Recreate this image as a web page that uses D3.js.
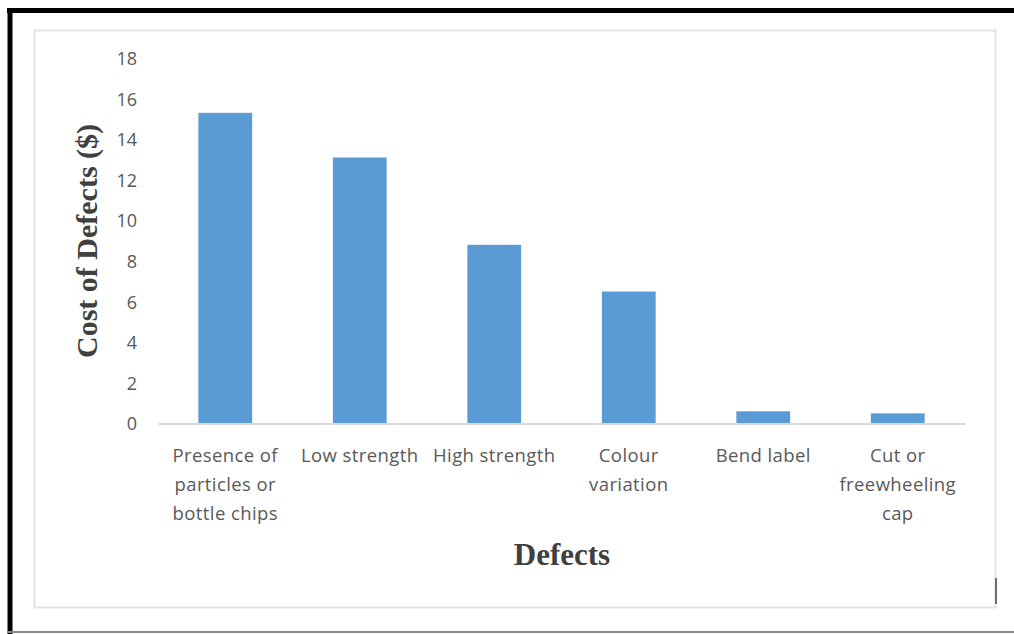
<!DOCTYPE html>
<html><head><meta charset="utf-8">
<script src="https://cdn.jsdelivr.net/npm/d3@7"></script>
<style>body{margin:0;background:#fff}svg{display:block}</style>
</head><body>
<script>
const categories = [["Presence of","particles or","bottle chips"],["Low strength"],["High strength"],["Colour","variation"],["Bend label"],["Cut or","freewheeling","cap"]];
const values = [15.3, 13.1, 8.8, 6.5, 0.6, 0.5];
const yTicks = [0,2,4,6,8,10,12,14,16,18];
const yTitle = "Cost of Defects ($)";
const xTitle = "Defects";

const W = 1014, H = 634;
const svg = d3.select("body").append("svg").attr("width", W).attr("height", H);

// outer frame
svg.append("line").attr("x1",7).attr("x2",W).attr("y1",10.5).attr("y2",10.5).attr("stroke","#000").attr("stroke-width",5);
svg.append("line").attr("x1",10).attr("x2",10).attr("y1",8).attr("y2",H).attr("stroke","#000").attr("stroke-width",5);
svg.append("line").attr("x1",8).attr("x2",W).attr("y1",632).attr("y2",632).attr("stroke","#888").attr("stroke-width",2);
// chart area box
svg.append("rect").attr("x",34.5).attr("y",30.5).attr("width",961).attr("height",577).attr("fill","#fff").attr("stroke","#e3e3e3").attr("stroke-width",2);
svg.append("line").attr("x1",996).attr("x2",996).attr("y1",578).attr("y2",604).attr("stroke","#444").attr("stroke-width",1.5);

const x = d3.scaleBand().domain(d3.range(categories.length)).range([158, 965]).paddingInner(0.6).paddingOuter(0.3);
const y = d3.scaleLinear().domain([0, 18]).range([423.5, 58]);

const sans = "'Open Sans', Lato, sans-serif";
const serif = "'Liberation Serif', 'DejaVu Serif', serif";

// y axis labels
const yAxis = d3.axisLeft(y).tickValues(yTicks).tickSize(0).tickPadding(0);
const gy = svg.append("g").attr("transform","translate(137,0)").call(yAxis);
gy.select(".domain").remove();
gy.selectAll("text").attr("fill","#595959").style("font-family",sans).style("font-size","18px").attr("dy","0.36em");

// bars
svg.selectAll("rect.bar").data(values).enter().append("rect").attr("class","bar")
  .attr("x",(d,i)=>x(i)).attr("width",x.bandwidth())
  .attr("y",d=>y(d)).attr("height",d=>y(0)-y(d))
  .attr("fill","#5B9BD5");

// baseline
const xAxis = d3.axisBottom(x).tickSize(0).tickFormat("");
const gx = svg.append("g").attr("transform",`translate(0,${y(0)})`).call(xAxis);
gx.select(".domain").attr("stroke","#d9d9d9").attr("stroke-width",2);

// category labels
const lab = svg.append("g");
categories.forEach((lines,i)=>{
  const cx = x(i)+x.bandwidth()/2;
  const t = lab.append("text").attr("x", cx).attr("y", 462)
    .attr("text-anchor","middle").attr("fill","#595959")
    .style("font-family",sans).style("font-size","18.5px").style("letter-spacing","0.4px");
  lines.forEach((l,j)=>t.append("tspan").attr("x", cx).attr("dy", j===0?0:29).text(l));
});

// axis titles
svg.append("text").attr("transform","translate(97,241) rotate(-90)").attr("text-anchor","middle")
  .attr("fill","#404040").style("font-family",serif).style("font-weight","bold").style("font-size","30px").text(yTitle);
svg.append("text").attr("x",562).attr("y",565).attr("text-anchor","middle")
  .attr("fill","#404040").style("font-family",serif).style("font-weight","bold").style("font-size","31px").text(xTitle);
</script>
</body></html>
